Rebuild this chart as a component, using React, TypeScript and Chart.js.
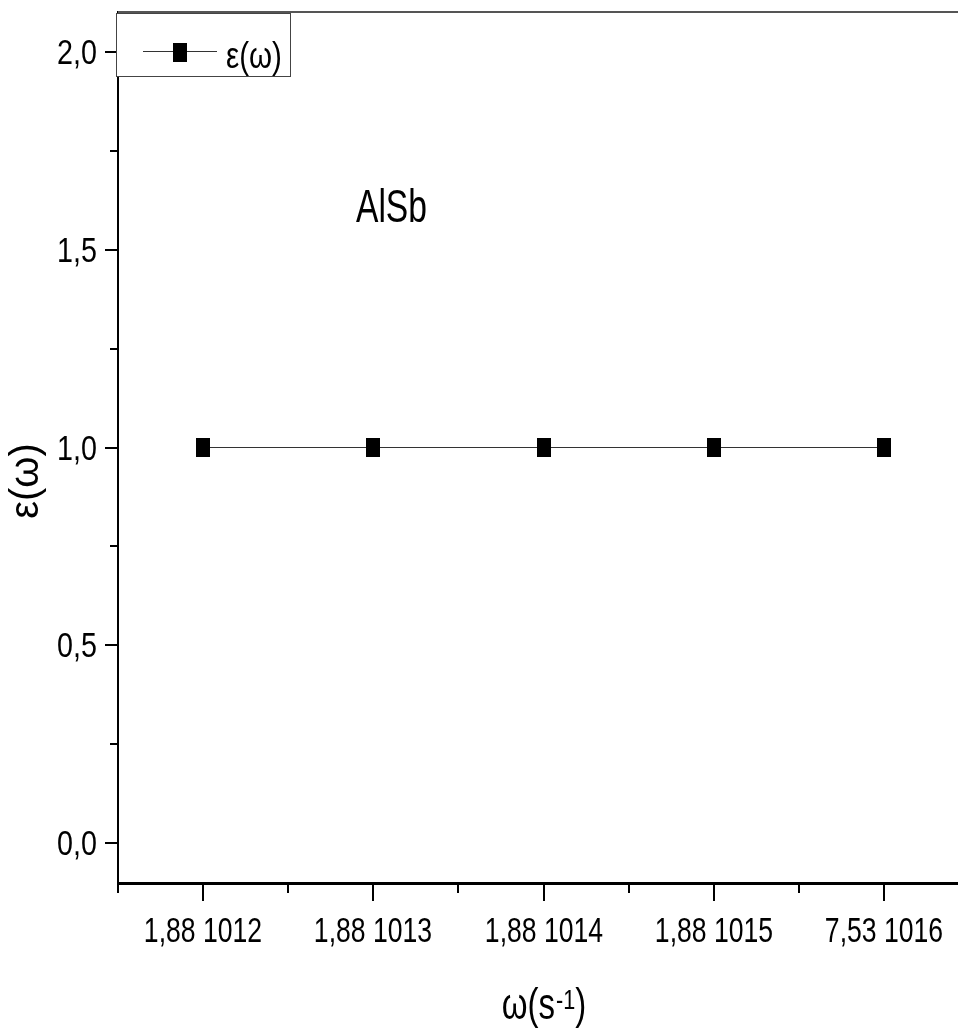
import React, { useEffect, useRef } from 'react';
import { Chart, registerables } from 'chart.js';

Chart.register(...registerables);

// ---- data ----
const categories = ['1,88 1012', '1,88 1013', '1,88 1014', '1,88 1015', '7,53 1016'];
const epsilonValues = [1, 1, 1, 1, 1];
const yTickValues = [0, 0.5, 1, 1.5, 2];
const yTickLabels = ['0,0', '0,5', '1,0', '1,5', '2,0'];
const yMinorTickValues = [0.25, 0.75, 1.25, 1.75];
const seriesLabel = 'ε(ω)';
const yAxisTitle = 'ε(ω)';
const xAxisTitleMain = 'ω(s';
const xAxisTitleSup = '-1';
const xAxisTitleEnd = ')';
const annotationText = 'AlSb';

const SANS = "'Liberation Sans', Arial, sans-serif";
const NARROW_SCALE = 0.82;

function makeMarker(w: number, h: number) {
  const c = document.createElement('canvas');
  c.width = w;
  c.height = h;
  const g = c.getContext('2d')!;
  g.fillStyle = '#000';
  g.fillRect(0, 0, w, h);
  return c;
}

function narrowText(
  ctx: CanvasRenderingContext2D,
  text: string,
  x: number,
  y: number,
  size: number,
  align: CanvasTextAlign,
  scale = NARROW_SCALE
) {
  ctx.save();
  ctx.translate(x, y);
  ctx.scale(scale, 1);
  ctx.font = `${size}px ${SANS}`;
  ctx.textAlign = align;
  ctx.textBaseline = 'alphabetic';
  ctx.fillStyle = '#000';
  ctx.fillText(text, 0, 0);
  ctx.restore();
}

function narrowWidth(ctx: CanvasRenderingContext2D, text: string, size: number, scale = NARROW_SCALE) {
  ctx.save();
  ctx.font = `${size}px ${SANS}`;
  const w = ctx.measureText(text).width * scale;
  ctx.restore();
  return w;
}

const decorPlugin = {
  id: 'decor',
  afterDraw(chart: any) {
    const ctx: CanvasRenderingContext2D = chart.ctx;
    const { left, right, top, bottom } = chart.chartArea;
    const ys = chart.scales.y;
    const xs = chart.scales.x;
    const seg = (x1: number, y1: number, x2: number, y2: number) => {
      ctx.beginPath();
      ctx.moveTo(x1, y1);
      ctx.lineTo(x2, y2);
      ctx.stroke();
    };
    ctx.save();
    // top frame line
    ctx.strokeStyle = '#555';
    ctx.lineWidth = 2;
    seg(left, top, right, top);

    // y ticks + labels
    ctx.strokeStyle = '#000';
    ctx.lineWidth = 2;
    yTickValues.forEach((v, i) => {
      const y = Math.round(ys.getPixelForValue(v));
      seg(left - 13, y, left, y);
      narrowText(ctx, yTickLabels[i], 97, y + 12, 35, 'right');
    });
    yMinorTickValues.forEach((v) => {
      const y = Math.round(ys.getPixelForValue(v));
      seg(left - 8, y, left, y);
    });
    // x ticks + labels
    categories.forEach((lab, i) => {
      const x = Math.round(xs.getPixelForValue(i));
      seg(x, bottom, x, bottom + 18);
      const xm = Math.round(xs.getPixelForValue(i - 0.5));
      seg(xm, bottom, xm, bottom + 10);
      narrowText(ctx, lab, x, 942, 35, 'center', 0.76);
    });

    // legend box
    const ds = chart.data.datasets[0];
    ctx.fillStyle = '#fff';
    ctx.fillRect(117, 14, 173, 62);
    ctx.strokeStyle = '#444';
    ctx.lineWidth = 1;
    ctx.strokeRect(116.5, 13.5, 174, 63);
    ctx.strokeStyle = ds.borderColor;
    ctx.lineWidth = ds.borderWidth;
    seg(143, 51.5, 217, 51.5);
    const mk = ds.pointStyle as HTMLCanvasElement;
    ctx.drawImage(mk, 180 - mk.width / 2, 52 - mk.height / 2);
    narrowText(ctx, ds.label, 226, 68, 36, 'left');

    // annotation
    narrowText(ctx, annotationText, 356, 222, 46, 'left', 0.73);

    // x axis title
    const tScale = 0.75;
    const w1 = narrowWidth(ctx, xAxisTitleMain, 44, tScale);
    const w2 = narrowWidth(ctx, xAxisTitleSup, 27, 0.8);
    const w3 = narrowWidth(ctx, xAxisTitleEnd, 44, tScale);
    const total = w1 + w2 + w3;
    const cx = (left + right) / 2;
    const x0 = cx - total / 2;
    const base = 1019;
    narrowText(ctx, xAxisTitleMain, x0, base, 44, 'left', tScale);
    narrowText(ctx, xAxisTitleSup, x0 + w1 + 1, base - 10, 27, 'left', 0.8);
    narrowText(ctx, xAxisTitleEnd, x0 + w1 + w2 + 1, base, 44, 'left', tScale);

    // y axis title
    ctx.save();
    ctx.translate(27, 481);
    ctx.rotate(-Math.PI / 2);
    ctx.font = `40px ${SANS}`;
    ctx.textAlign = 'center';
    ctx.textBaseline = 'middle';
    ctx.fillStyle = '#000';
    ctx.fillText(yAxisTitle, 0, 0);
    ctx.restore();

    ctx.restore();
  },
};

export default function App() {
  const ref = useRef<HTMLCanvasElement | null>(null);
  useEffect(() => {
    document.body.style.margin = '0';
    const canvas = ref.current!;
    const marker = makeMarker(14, 19);
    const chart = new Chart(canvas, {
      type: 'line',
      data: {
        labels: categories,
        datasets: [
          {
            label: seriesLabel,
            data: epsilonValues,
            borderColor: '#333',
            borderWidth: 1.2,
            pointStyle: marker as any,
            pointRadius: 8,
            pointBackgroundColor: '#000',
            pointBorderColor: '#000',
            tension: 0,
          },
        ],
      },
      options: {
        responsive: false,
        animation: false,
        maintainAspectRatio: false,
        layout: { autoPadding: false, padding: { top: 12, left: 0, right: 0, bottom: 0 } },
        plugins: {
          legend: { display: false },
          tooltip: { enabled: false },
        },
        scales: {
          x: {
            type: 'category',
            offset: true,
            grid: { display: false, drawTicks: false },
            border: { display: true, color: '#000', width: 3 },
            ticks: { display: false },
            afterFit: (s: any) => {
              s.height = 147;
              s.paddingLeft = 0;
              s.paddingRight = 0;
            },
          },
          y: {
            type: 'linear',
            min: -0.1,
            max: 2.1,
            grid: { display: false, drawTicks: false },
            border: { display: true, color: '#000', width: 2 },
            ticks: { display: false },
            afterFit: (s: any) => {
              s.width = 118;
              s.paddingTop = 0;
              s.paddingBottom = 0;
            },
          },
        },
      },
      plugins: [decorPlugin],
    });
    return () => chart.destroy();
  }, []);
  return (
    <div style={{ position: 'absolute', left: 0, top: 0, width: 958, height: 1030, overflow: 'hidden', background: '#fff' }}>
      <canvas ref={ref} width={969} height={1030} style={{ display: 'block', width: 969, height: 1030 }} />
    </div>
  );
}
